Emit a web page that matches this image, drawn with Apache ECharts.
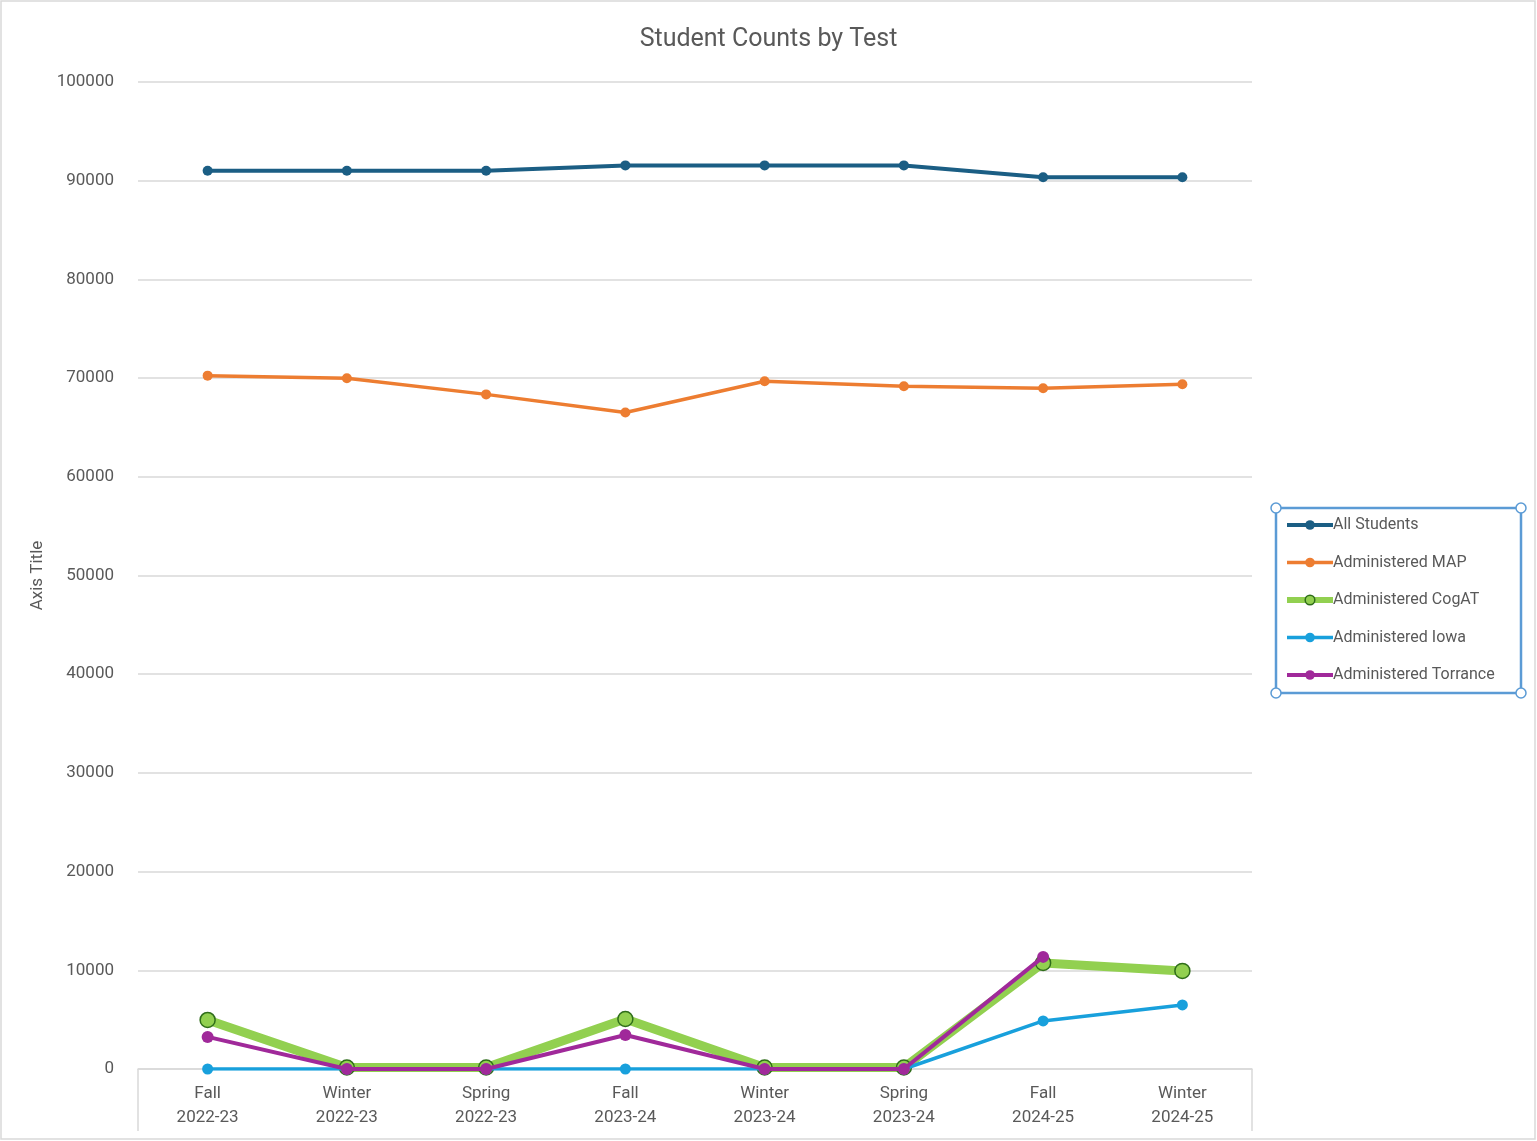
<!DOCTYPE html>
<html><head><meta charset="utf-8">
<script src="https://cdn.jsdelivr.net/npm/echarts@6/dist/echarts.min.js"></script>
<style>html,body{margin:0;padding:0;background:#fff}#c{width:1537px;height:1141px}</style>
</head><body><div id="c"></div>
<script>
const categories = ['Fall\n2022-23','Winter\n2022-23','Spring\n2022-23','Fall\n2023-24','Winter\n2023-24','Spring\n2023-24','Fall\n2024-25','Winter\n2024-25'];
const seriesNames = ['All Students','Administered MAP','Administered CogAT','Administered Iowa','Administered Torrance'];
const allStudents = [91000, 91000, 91000, 91550, 91550, 91550, 90350, 90350];
const adminMAP = [70250, 69980, 68350, 66520, 69680, 69170, 68970, 69380];
const adminCogAT = [4970, 150, 150, 5070, 150, 150, 10750, 9940];
const adminIowa = [0, 0, 0, 0, 0, 0, 4870, 6490];
const adminTorrance = [3250, 0, 0, 3450, 0, 0, 11360, null];
const yTicks = [0, 10000, 20000, 30000, 40000, 50000, 60000, 70000, 80000, 90000, 100000];

const chart = echarts.init(document.getElementById('c'), null, {renderer:'canvas'});
const FONT = 'Roboto, "Liberation Sans", sans-serif';
const G = {left:138, right:285, top:82, bottom:72};
const W = 1537, H = 1141;
const axisColor = '#d9d9d9';
const colors = ['#1b5e84','#ed7d31','#92d050','#18a0dc','#a0299a'];
const widths = [4, 3.5, 9, 3.5, 4];
function mk(i, data, size, border, z){
  const color = colors[i];
  return {name:seriesNames[i], type:'line', data, z, symbol:'circle', symbolSize:size, connectNulls:false,
    lineStyle:{color, width:widths[i]}, itemStyle:{color, borderColor:border||color, borderWidth:border?1.5:0},
    emphasis:{disabled:true}, animation:false};
}
const LB = {x1:1276, y1:508, x2:1521, y2:693};
chart.setOption({
  backgroundColor:'#fff',
  animation:false,
  title:{text:'Student Counts by Test', left:'center', top:22, textStyle:{fontFamily:FONT, fontSize:25, fontWeight:'normal', color:'#595959'}},
  grid:G,
  legend:{orient:'vertical', left:LB.x1+8, top:LB.y1+9, itemGap:21.5, itemWidth:46, itemHeight:12,
    padding:0,
    textStyle:{fontFamily:FONT, fontSize:16, color:'#595959', padding:[0,0,0,-5]},
    data:seriesNames.map((n,i)=>({name:n, itemStyle:{borderWidth:i===2?1.5:0, borderColor:i===2?'#2f6d1a':colors[i]}, lineStyle:{width:Math.min(widths[i],6)}}))},
  xAxis:{type:'category', data:categories, boundaryGap:true,
    axisLine:{lineStyle:{color:axisColor, width:1.5}}, axisTick:{show:false},
    axisLabel:{fontFamily:FONT, fontSize:17, color:'#595959', lineHeight:24, margin:13}},
  yAxis:{type:'value', min:0, max:100000, interval:10000, name:'Axis Title', nameLocation:'middle', nameGap:88,
    nameTextStyle:{fontFamily:FONT, fontSize:17, color:'#595959'},
    axisLine:{show:false}, axisTick:{show:false},
    axisLabel:{fontFamily:FONT, fontSize:17, color:'#595959', margin:24, formatter:v=>yTicks.includes(v)?String(v):''},
    splitLine:{lineStyle:{color:'#d9d9d9', width:1.5}}},
  series:[
    mk(0, allStudents, 10, null, 2),
    mk(1, adminMAP, 10, null, 3),
    mk(2, adminCogAT, 15, '#2f6d1a', 4),
    mk(3, adminIowa, 11, null, 5),
    mk(4, adminTorrance, 12, null, 6)
  ],
  graphic:[
    {type:'rect', shape:{x:1, y:1, width:W-3, height:H-3}, style:{fill:'none', stroke:'#d9d9d9', lineWidth:1.5}, silent:true},
    {type:'line', shape:{x1:G.left, y1:H-G.bottom, x2:G.left, y2:H-10}, style:{stroke:axisColor, lineWidth:1.5}, silent:true},
    {type:'line', shape:{x1:W-G.right, y1:H-G.bottom, x2:W-G.right, y2:H-10}, style:{stroke:axisColor, lineWidth:1.5}, silent:true},
    {type:'rect', shape:{x:LB.x1, y:LB.y1, width:LB.x2-LB.x1, height:LB.y2-LB.y1}, style:{fill:'none', stroke:'#5b9bd5', lineWidth:2.5}, silent:true, z:90},
    {type:'circle', shape:{cx:LB.x1, cy:LB.y1, r:5}, style:{fill:'#fff', stroke:'#5b9bd5', lineWidth:1.5}, z:100},
    {type:'circle', shape:{cx:LB.x2, cy:LB.y1, r:5}, style:{fill:'#fff', stroke:'#5b9bd5', lineWidth:1.5}, z:100},
    {type:'circle', shape:{cx:LB.x1, cy:LB.y2, r:5}, style:{fill:'#fff', stroke:'#5b9bd5', lineWidth:1.5}, z:100},
    {type:'circle', shape:{cx:LB.x2, cy:LB.y2, r:5}, style:{fill:'#fff', stroke:'#5b9bd5', lineWidth:1.5}, z:100}
  ]
});
</script></body></html>
